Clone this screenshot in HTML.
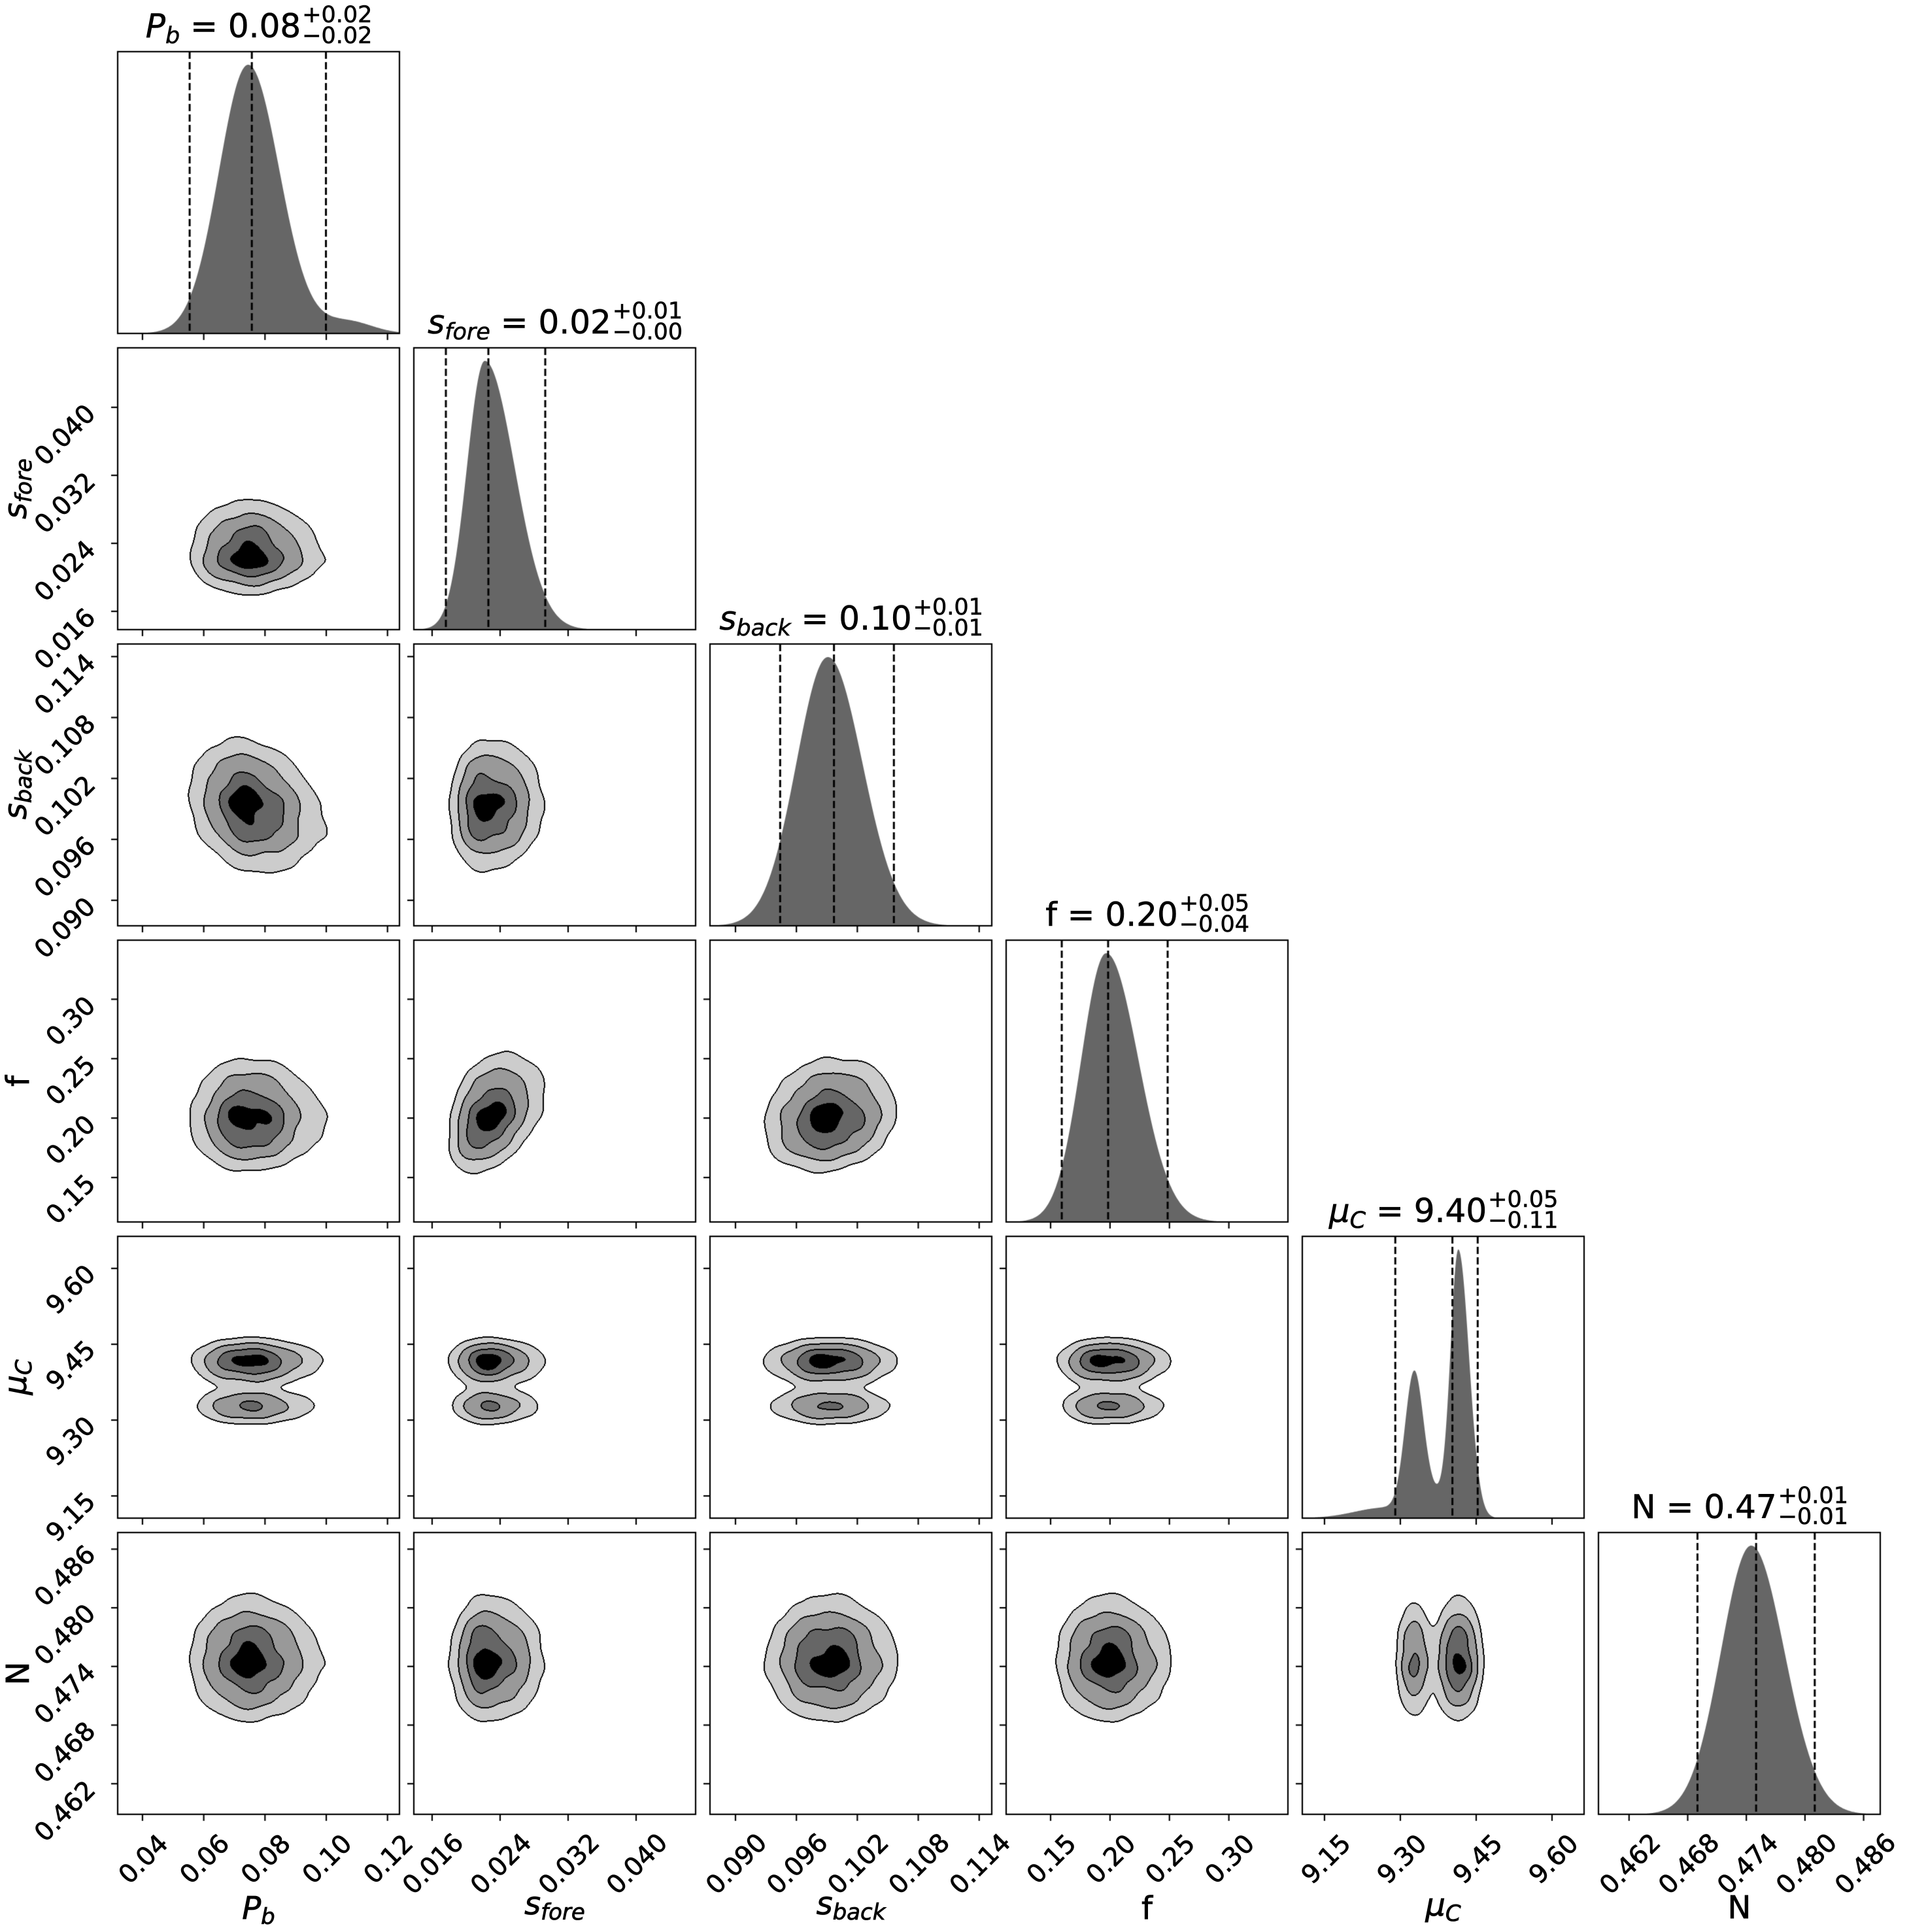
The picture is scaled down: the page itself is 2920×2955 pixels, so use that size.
<!DOCTYPE html>
<html><head><meta charset="utf-8">
<style>
body{margin:0;background:#fff;}
#w{position:relative;width:2920px;height:2955px;overflow:hidden;font-family:"DejaVu Sans","Liberation Sans",sans-serif;background:#fff;}
canvas,svg{position:absolute;left:0;top:0;}
.t{position:absolute;transform:translateX(-50%);white-space:nowrap;font-size:50px;line-height:50px;color:#000;-webkit-text-stroke:0.6px #000;}
.t i{font-style:italic}
.sb{font-size:35px;vertical-align:-9px;font-style:italic}
.ss{display:inline-block;position:relative;width:108px;height:1px;}
.ss span{position:absolute;left:2px;font-size:35px;line-height:35px;}
.ss .a{top:-49.6px}
.ss .b{top:-17.6px}
</style></head><body><div id="w">
<canvas id="c" width="2920" height="2955"></canvas>
<svg width="2920" height="2955" viewBox="0 0 2920 2955" font-family="DejaVu Sans, Liberation Sans, sans-serif" fill="#000" stroke="#000" stroke-width="0.8">
<g font-size="39" transform="translate(0 -6)">
<text x="228.5" y="2858.8" text-anchor="middle" transform="rotate(-45 228.5 2858.8)">0.04</text>
<text x="322.2" y="2858.8" text-anchor="middle" transform="rotate(-45 322.2 2858.8)">0.06</text>
<text x="415.9" y="2858.8" text-anchor="middle" transform="rotate(-45 415.9 2858.8)">0.08</text>
<text x="509.6" y="2858.8" text-anchor="middle" transform="rotate(-45 509.6 2858.8)">0.10</text>
<text x="603.3" y="2858.8" text-anchor="middle" transform="rotate(-45 603.3 2858.8)">0.12</text>
<text x="671.6" y="2866" text-anchor="middle" transform="rotate(-45 671.6 2866)">0.016</text>
<text x="775.6" y="2866" text-anchor="middle" transform="rotate(-45 775.6 2866)">0.024</text>
<text x="879.6" y="2866" text-anchor="middle" transform="rotate(-45 879.6 2866)">0.032</text>
<text x="983.6" y="2866" text-anchor="middle" transform="rotate(-45 983.6 2866)">0.040</text>
<text x="1135.6" y="2866" text-anchor="middle" transform="rotate(-45 1135.6 2866)">0.090</text>
<text x="1228.8" y="2866" text-anchor="middle" transform="rotate(-45 1228.8 2866)">0.096</text>
<text x="1322" y="2866" text-anchor="middle" transform="rotate(-45 1322 2866)">0.102</text>
<text x="1415.2" y="2866" text-anchor="middle" transform="rotate(-45 1415.2 2866)">0.108</text>
<text x="1508.4" y="2866" text-anchor="middle" transform="rotate(-45 1508.4 2866)">0.114</text>
<text x="1617.6" y="2858.8" text-anchor="middle" transform="rotate(-45 1617.6 2858.8)">0.15</text>
<text x="1708.5" y="2858.8" text-anchor="middle" transform="rotate(-45 1708.5 2858.8)">0.20</text>
<text x="1799.4" y="2858.8" text-anchor="middle" transform="rotate(-45 1799.4 2858.8)">0.25</text>
<text x="1890.3" y="2858.8" text-anchor="middle" transform="rotate(-45 1890.3 2858.8)">0.30</text>
<text x="2037.6" y="2858.8" text-anchor="middle" transform="rotate(-45 2037.6 2858.8)">9.15</text>
<text x="2153.6" y="2858.8" text-anchor="middle" transform="rotate(-45 2153.6 2858.8)">9.30</text>
<text x="2269.6" y="2858.8" text-anchor="middle" transform="rotate(-45 2269.6 2858.8)">9.45</text>
<text x="2385.6" y="2858.8" text-anchor="middle" transform="rotate(-45 2385.6 2858.8)">9.60</text>
<text x="2502.6" y="2866" text-anchor="middle" transform="rotate(-45 2502.6 2866)">0.462</text>
<text x="2592.6" y="2866" text-anchor="middle" transform="rotate(-45 2592.6 2866)">0.468</text>
<text x="2682.6" y="2866" text-anchor="middle" transform="rotate(-45 2682.6 2866)">0.474</text>
<text x="2772.6" y="2866" text-anchor="middle" transform="rotate(-45 2772.6 2866)">0.480</text>
<text x="2862.6" y="2866" text-anchor="middle" transform="rotate(-45 2862.6 2866)">0.486</text>
</g>
<g font-size="39">
<text x="148" y="947" text-anchor="end" transform="rotate(-45 148 947)">0.016</text>
<text x="148" y="843" text-anchor="end" transform="rotate(-45 148 843)">0.024</text>
<text x="148" y="739" text-anchor="end" transform="rotate(-45 148 739)">0.032</text>
<text x="148" y="635" text-anchor="end" transform="rotate(-45 148 635)">0.040</text>
<text x="148" y="1389" text-anchor="end" transform="rotate(-45 148 1389)">0.090</text>
<text x="148" y="1295.8" text-anchor="end" transform="rotate(-45 148 1295.8)">0.096</text>
<text x="148" y="1202.6" text-anchor="end" transform="rotate(-45 148 1202.6)">0.102</text>
<text x="148" y="1109.4" text-anchor="end" transform="rotate(-45 148 1109.4)">0.108</text>
<text x="148" y="1016.2" text-anchor="end" transform="rotate(-45 148 1016.2)">0.114</text>
<text x="148" y="1813" text-anchor="end" transform="rotate(-45 148 1813)">0.15</text>
<text x="148" y="1722.1" text-anchor="end" transform="rotate(-45 148 1722.1)">0.20</text>
<text x="148" y="1631.2" text-anchor="end" transform="rotate(-45 148 1631.2)">0.25</text>
<text x="148" y="1540.3" text-anchor="end" transform="rotate(-45 148 1540.3)">0.30</text>
<text x="148" y="2299" text-anchor="end" transform="rotate(-45 148 2299)">9.15</text>
<text x="148" y="2183" text-anchor="end" transform="rotate(-45 148 2183)">9.30</text>
<text x="148" y="2067" text-anchor="end" transform="rotate(-45 148 2067)">9.45</text>
<text x="148" y="1951" text-anchor="end" transform="rotate(-45 148 1951)">9.60</text>
<text x="148" y="2740" text-anchor="end" transform="rotate(-45 148 2740)">0.462</text>
<text x="148" y="2650" text-anchor="end" transform="rotate(-45 148 2650)">0.468</text>
<text x="148" y="2560" text-anchor="end" transform="rotate(-45 148 2560)">0.474</text>
<text x="148" y="2470" text-anchor="end" transform="rotate(-45 148 2470)">0.480</text>
<text x="148" y="2380" text-anchor="end" transform="rotate(-45 148 2380)">0.486</text>
</g>
<g font-size="48">
<text x="395.5" y="2935" text-anchor="middle"><tspan font-style="italic">P</tspan><tspan font-style="italic" font-size="34" dy="8">b</tspan></text>
<text x="848.5" y="2928" text-anchor="middle"><tspan font-style="italic">s</tspan><tspan font-style="italic" font-size="34" dy="8">fore</tspan></text>
<text x="1301.5" y="2928" text-anchor="middle"><tspan font-style="italic">s</tspan><tspan font-style="italic" font-size="34" dy="8">back</tspan></text>
<text x="1754.5" y="2935" text-anchor="middle">f</text>
<text x="2207.5" y="2930" text-anchor="middle"><tspan font-style="italic">μ</tspan><tspan font-style="italic" font-size="34" dy="8">C</tspan></text>
<text x="2660.5" y="2934" text-anchor="middle">N</text>
<text transform="translate(40 747.5) rotate(-90)" text-anchor="middle"><tspan font-style="italic">s</tspan><tspan font-style="italic" font-size="34" dy="8">fore</tspan></text>
<text transform="translate(40 1200.5) rotate(-90)" text-anchor="middle"><tspan font-style="italic">s</tspan><tspan font-style="italic" font-size="34" dy="8">back</tspan></text>
<text transform="translate(44 1653.5) rotate(-90)" text-anchor="middle">f</text>
<text transform="translate(40 2106.5) rotate(-90)" text-anchor="middle"><tspan font-style="italic">μ</tspan><tspan font-style="italic" font-size="34" dy="8">C</tspan></text>
<text transform="translate(44 2559.5) rotate(-90)" text-anchor="middle">N</text>
</g>
</svg>
<div class="t" style="left:395.5px;top:15px"><i>P</i><span class="sb">b</span> = 0.08<span class="ss"><span class="a">+0.02</span><span class="b">−0.02</span></span></div>
<div class="t" style="left:848.5px;top:468px"><i>s</i><span class="sb">fore</span> = 0.02<span class="ss"><span class="a">+0.01</span><span class="b">−0.00</span></span></div>
<div class="t" style="left:1301.5px;top:921px"><i>s</i><span class="sb">back</span> = 0.10<span class="ss"><span class="a">+0.01</span><span class="b">−0.01</span></span></div>
<div class="t" style="left:1754.5px;top:1374px">f = 0.20<span class="ss"><span class="a">+0.05</span><span class="b">−0.04</span></span></div>
<div class="t" style="left:2207.5px;top:1827px"><i>μ</i><span class="sb">C</span> = 9.40<span class="ss"><span class="a">+0.05</span><span class="b">−0.11</span></span></div>
<div class="t" style="left:2660.5px;top:2280px">N = 0.47<span class="ss"><span class="a">+0.01</span><span class="b">−0.01</span></span></div>
</div>
<script>
(function(){
const c=document.getElementById('c'),x=c.getContext('2d');
const L=[180,633,1086,1539,1992,2445],T=[79,532,985,1438,1891,2344],S=431;
const R=[[0.0319,0.1239],[0.01385,0.04700],[0.08749,0.11524],[0.1126,0.3497],[9.1061,9.6634],[0.45887,0.48770]];
const TK=[[.04,.06,.08,.10,.12],[.016,.024,.032,.040],[.090,.096,.102,.108,.114],[.15,.20,.25,.30],[9.15,9.30,9.45,9.60],[.462,.468,.474,.480,.486]];
const M=[.0745,.0222,.0991,.1968,9.415,.4745];
const g=(v,m,s)=>Math.exp(-0.5*((v-m)/s)*((v-m)/s));
const sk=(v,m,a,b)=>g(v,m,v<m?a:b);
const D1=[
 v=>sk(v,.0745,.0095,.0102)+0.045*g(v,.107,.008),
 v=>sk(v,.0222,.0021,.0035),
 v=>sk(v,.0991,.0031,.0034),
 v=>sk(v,.1968,.021,.027),
 v=>0.04*g(v,9.27,0.06)+0.5*g(v,9.327,0.018)+0.08*g(v,9.365,0.03)+sk(v,9.415,0.0155,0.021),
 v=>sk(v,.4745,.0031,.0034)
];
const D2=D1.slice();
D2[0]=v=>sk(v,.0745,.0095,.011)+0.07*g(v,.105,.01);
D2[4]=v=>g(v,9.415,0.0246)+0.68*g(v,9.327,0.0194);
const Q=[[.0554,.0757,.0999],[.01762,.02262,.02931],[.0944,.0997,.1056],[.1594,.1984,.2485],[9.290,9.403,9.453],[.4690,.4750,.4810]];
const K={'0,2':-0.2,'1,3':0.45,'2,3':0.12,'1,2':0.05};
function px(i,v){return (v-R[i][0])/(R[i][1]-R[i][0])*S;}
x.fillStyle='#fff';x.fillRect(0,0,2920,2955);
const col=[255,204,153,102,0];
for(let j=1;j<6;j++)for(let i=0;i<j;i++){
 const img=x.createImageData(S,S),d=img.data,lv=new Uint8Array(S*S);
 const ocx=px(i,M[i]),k=K[i+','+j]||0,sd=i*3.1+j*1.7;
 for(let oy=0;oy<S;oy++)for(let ox=0;ox<S;ox++){
  const vx=R[i][0]+(ox+.5)/S*(R[i][1]-R[i][0]);
  const oye=oy+k*(ox-ocx);
  const vy=R[j][1]-(oye+.5)/S*(R[j][1]-R[j][0]);
  const w=1+0.05*Math.sin(ox*0.09+sd)+0.045*Math.sin(oy*0.11+sd*2)+0.035*Math.sin((ox+oy)*0.07+sd*3)+0.03*Math.sin((ox-oy)*0.13+sd*1.3);
  const v=D2[i](vx)*D2[j](vy)*w;
  lv[oy*S+ox]=v>0.8825?4:v>0.6065?3:v>0.3247?2:v>0.1353?1:0;
 }
 const e=new Uint8Array(S*S);
 for(let oy=0;oy<S;oy++)for(let ox=0;ox<S;ox++){
  const p=oy*S+ox;
  if(ox<S-1&&lv[p]!==lv[p+1]){e[p]=1;e[p+1]=1;}
  if(oy<S-1&&lv[p]!==lv[p+S]){e[p]=1;e[p+S]=1;}
 }
 for(let p=0;p<S*S;p++){
  const cc=e[p]?0:col[lv[p]];
  d[p*4]=cc;d[p*4+1]=cc;d[p*4+2]=cc;d[p*4+3]=255;
 }
 x.putImageData(img,L[i],T[j]);
}
for(let k=0;k<6;k++){
 const Lx=L[k],B=T[k]+S;let fm=0;const ys=[];
 for(let ox=0;ox<=S;ox++){const v=D1[k](R[k][0]+ox/S*(R[k][1]-R[k][0]));ys.push(v);if(v>fm)fm=v;}
 x.beginPath();x.moveTo(Lx,B);
 for(let ox=0;ox<=S;ox++)x.lineTo(Lx+ox,B-ys[ox]/fm*411);
 x.lineTo(Lx+S,B);x.closePath();x.fillStyle='#666666';x.fill();
 x.setLineDash([11,5]);x.lineWidth=3;x.strokeStyle='#000';
 for(const q of Q[k]){const X=Lx+px(k,q);x.beginPath();x.moveTo(X,T[k]);x.lineTo(X,B);x.stroke();}
 x.setLineDash([]);
}
x.strokeStyle='#000';
for(let j=0;j<6;j++)for(let i=0;i<=j;i++){
 const Lx=L[i],Ty=T[j],B=Ty+S;
 x.lineWidth=2.2;x.strokeRect(Lx,Ty,S,S);
 for(const t of TK[i]){const X=Lx+px(i,t);x.beginPath();x.moveTo(X,B);x.lineTo(X,B+10);x.stroke();}
 if(i<j)for(const t of TK[j]){const Y=B-px(j,t);x.beginPath();x.moveTo(Lx-10,Y);x.lineTo(Lx,Y);x.stroke();}
}
})();
</script>
</body></html>
